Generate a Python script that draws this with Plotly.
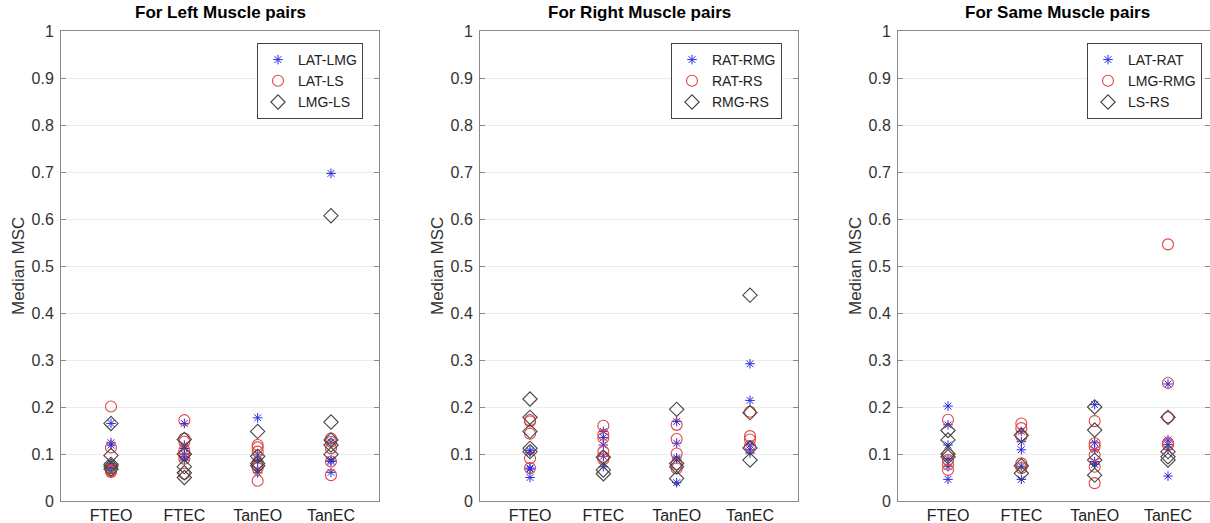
import plotly.graph_objects as go

# Conditions on the x axis
CATEGORIES = ["FTEO", "FTEC", "TanEO", "TanEC"]
Y_TICKS = [0, 0.1, 0.2, 0.3, 0.4, 0.5, 0.6, 0.7, 0.8, 0.9, 1]
Y_TICK_TEXT = ["0", "0.1", "0.2", "0.3", "0.4", "0.5", "0.6", "0.7", "0.8", "0.9", "1"]

PANEL_TITLES = ["For Left Muscle pairs", "For Right Muscle pairs", "For Same Muscle pairs"]

# Median MSC values, one list per condition (FTEO, FTEC, TanEO, TanEC)
LEFT_NAMES = ["LAT-LMG", "LAT-LS", "LMG-LS"]
left_lat_lmg = [[0.165, 0.124, 0.119, 0.080, 0.075, 0.072],
                [0.165, 0.119, 0.112, 0.100, 0.094, 0.087],
                [0.177, 0.098, 0.085, 0.066, 0.060],
                [0.697, 0.125, 0.087, 0.084, 0.061]]
left_lat_ls = [[0.201, 0.114, 0.070, 0.066, 0.064, 0.062],
               [0.172, 0.133, 0.126, 0.108, 0.098, 0.090, 0.058],
               [0.119, 0.114, 0.105, 0.082, 0.070, 0.043],
               [0.133, 0.126, 0.112, 0.084, 0.055]]
left_lmg_ls = [[0.165, 0.097, 0.078, 0.074, 0.068],
               [0.131, 0.100, 0.073, 0.060, 0.050],
               [0.148, 0.095, 0.080, 0.075],
               [0.607, 0.168, 0.130, 0.119, 0.099]]

RIGHT_NAMES = ["RAT-RMG", "RAT-RS", "RMG-RS"]
right_rat_rmg = [[0.107, 0.103, 0.070, 0.068, 0.050],
                 [0.148, 0.135, 0.119, 0.095, 0.073],
                 [0.169, 0.123, 0.092, 0.089, 0.039],
                 [0.292, 0.214, 0.119, 0.109, 0.102]]
right_rat_rs = [[0.172, 0.169, 0.143, 0.091, 0.070],
                [0.160, 0.141, 0.134, 0.105, 0.094, 0.089],
                [0.162, 0.132, 0.101, 0.078, 0.069],
                [0.190, 0.138, 0.131, 0.117]]
right_rmg_rs = [[0.217, 0.178, 0.148, 0.112, 0.105],
                [0.093, 0.066, 0.058],
                [0.195, 0.080, 0.073, 0.048],
                [0.438, 0.188, 0.113, 0.087]]

SAME_NAMES = ["LAT-RAT", "LMG-RMG", "LS-RS"]
same_lat_rat = [[0.202, 0.162, 0.119, 0.090, 0.073, 0.046],
                [0.148, 0.126, 0.109, 0.074, 0.046],
                [0.205, 0.124, 0.109, 0.084, 0.078],
                [0.249, 0.130, 0.120, 0.110, 0.053]]
same_lmg_rmg = [[0.173, 0.099, 0.087, 0.077, 0.066],
                [0.165, 0.155, 0.138, 0.080, 0.070],
                [0.170, 0.123, 0.116, 0.098, 0.073, 0.038],
                [0.546, 0.251, 0.178, 0.124, 0.119]]
same_ls_rs = [[0.150, 0.130, 0.100, 0.094],
              [0.140, 0.075, 0.059],
              [0.200, 0.151, 0.087, 0.055],
              [0.178, 0.105, 0.094, 0.087]]

PANELS = [
    (LEFT_NAMES, [left_lat_lmg, left_lat_ls, left_lmg_ls]),
    (RIGHT_NAMES, [right_rat_rmg, right_rat_rs, right_rmg_rs]),
    (SAME_NAMES, [same_lat_rat, same_lmg_rmg, same_ls_rs]),
]

FONT = "Liberation Sans, Arial, Helvetica, sans-serif"
W, H = 1210, 523
M_T, M_B = 31, 22

# marker style per series slot: blue asterisk, red circle, black diamond
STYLES = [
    dict(symbol="asterisk-open", size=8, color="#2a2ae0", line=dict(color="#2a2ae0", width=1)),
    dict(symbol="circle-open", size=11, color="#de4545", line=dict(color="#de4545", width=1.1)),
    dict(symbol="diamond-open", size=11, color="#454545", line=dict(color="#454545", width=1.1)),
]

# horizontal pixel extents of each axes box
BOXES = [(61, 379), (480, 798), (898, 1210)]
X_STEP = 73.33          # pixels between neighbouring conditions
FIRST_OFFSET = 50       # pixels from left axis to first condition
LEGEND_RIGHT = [363, 782, 1202]

fig = go.Figure()

for p, (names, series) in enumerate(PANELS):
    ax = "" if p == 0 else str(p + 1)
    leg = "legend" if p == 0 else f"legend{p + 1}"
    for s, (name, vals) in enumerate(zip(names, series)):
        xs, ys = [], []
        for ci, cat_vals in enumerate(vals):
            xs += [ci + 1] * len(cat_vals)
            ys += cat_vals
        fig.add_trace(go.Scatter(
            x=xs, y=ys, mode="markers", name=name,
            marker=STYLES[s], xaxis="x" + ax, yaxis="y" + ax,
            legend=leg, showlegend=True,
        ))

    x0, x1 = BOXES[p]
    start = 1 - FIRST_OFFSET / X_STEP
    end = start + (x1 - x0) / X_STEP
    fig.layout["xaxis" + ax] = dict(
        domain=[x0 / W, x1 / W], range=[start, end], anchor="y" + ax,
        tickvals=[1, 2, 3, 4], ticktext=CATEGORIES, ticks="",
        showgrid=False, zeroline=False, showline=True, linecolor="#8a8a8a",
        linewidth=1, mirror=True, automargin=False,
        tickfont=dict(family=FONT, size=16, color="#222222"),
        ticklabelstandoff=0,
    )
    fig.layout["yaxis" + ax] = dict(
        domain=[0, 1], range=[0, 1], anchor="x" + ax,
        tickvals=Y_TICKS, ticktext=Y_TICK_TEXT, ticks="inside", ticklen=5,
        tickcolor="#8a8a8a", showgrid=True, gridcolor="#ececec", gridwidth=1,
        zeroline=False, showline=True, linecolor="#8a8a8a", linewidth=1,
        mirror="ticks", automargin=False,
        tickfont=dict(family=FONT, size=16, color="#333333"),
        ticklabelstandoff=3,
    )
    fig.layout[leg] = dict(
        x=LEGEND_RIGHT[p] / W, xanchor="right",
        y=(H - M_B - 43) / (H - M_T - M_B), yanchor="top",
        bgcolor="white", bordercolor="#444444", borderwidth=1,
        font=dict(family=FONT, size=14, color="#222222"),
        tracegroupgap=0,
    )
    # panel title
    fig.add_annotation(
        text="<b>" + PANEL_TITLES[p] + "</b>", xref="paper", yref="paper",
        x=(x0 + x0 + 318) / 2 / W, y=(H - M_B - 12) / (H - M_T - M_B),
        xanchor="center", yanchor="middle", showarrow=False,
        font=dict(family=FONT, size=17, color="#000000"),
    )
    # y axis label
    fig.add_annotation(
        text="Median MSC", xref="paper", yref="paper",
        x=(x0 - 43) / W, y=0.5, textangle=-90,
        xanchor="center", yanchor="middle", showarrow=False,
        font=dict(family=FONT, size=17, color="#333333"),
    )

fig.update_layout(
    width=W, height=H,
    margin=dict(l=0, r=0, t=M_T, b=M_B, pad=0, autoexpand=False),
    paper_bgcolor="white", plot_bgcolor="white",
)

fig.write_html("out.html")
